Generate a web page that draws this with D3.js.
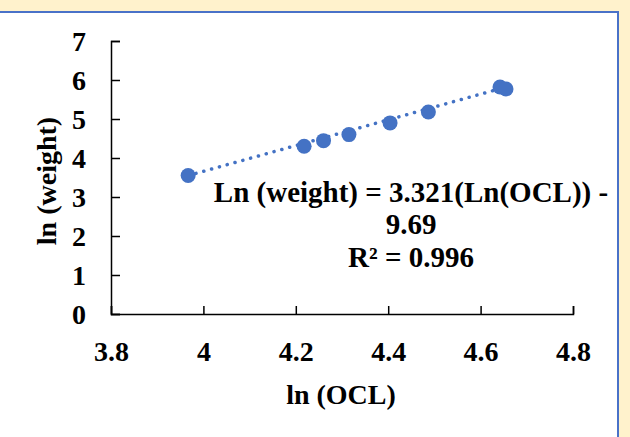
<!DOCTYPE html>
<html><head><meta charset="utf-8">
<script src="https://cdn.jsdelivr.net/npm/d3@7"></script>
<style>html,body{margin:0;padding:0;background:#FFF2CC;}svg{display:block;}</style>
</head><body>
<script>
const lnOCL = [3.967, 4.218, 4.260, 4.315, 4.404, 4.487, 4.642, 4.655];
const lnWeight = [3.55, 4.30, 4.445, 4.60, 4.90, 5.18, 5.82, 5.77];
const xTicks = [3.8, 4, 4.2, 4.4, 4.6, 4.8];
const yTicks = [0, 1, 2, 3, 4, 5, 6, 7];
const slope = 3.321, intercept = -9.69;
const eqLines = ["Ln (weight) = 3.321(Ln(OCL)) -", "9.69", "R² = 0.996"];
const xTitle = "ln (OCL)", yTitle = "ln (weight)";

const W = 630, H = 437;
const svg = d3.select("body").append("svg").attr("width", W).attr("height", H);
svg.append("rect").attr("width", W).attr("height", H).attr("fill", "#FFF2CC");
svg.append("rect").attr("x", -5).attr("y", 12).attr("width", 623).attr("height", 440)
  .attr("fill", "#fff").attr("stroke", "#4A72C8").attr("stroke-width", 2);

const font = "'Liberation Serif','Times New Roman',serif";
const x = d3.scaleLinear().domain([3.8, 4.8]).range([111, 573]);
const y = d3.scaleLinear().domain([0, 7]).range([314, 41]);

const gx = svg.append("g").attr("transform", "translate(0,314)")
  .call(d3.axisBottom(x).tickValues(xTicks).tickSizeInner(-8).tickSizeOuter(-8).tickPadding(27).tickFormat(d3.format("")));
const gy = svg.append("g").attr("transform", "translate(111,0)")
  .call(d3.axisLeft(y).tickValues(yTicks).tickSizeInner(-9).tickSizeOuter(-9).tickPadding(25).tickFormat(d3.format("d")));
[gx, gy].forEach(g => {
  g.select(".domain").attr("stroke", "#000").attr("stroke-width", 1.5);
  g.selectAll(".tick line").attr("stroke", "#000").attr("stroke-width", 1.5);
  g.selectAll("text").attr("fill", "#000").style("font-family", font).style("font-weight", "bold").style("font-size", "28px");
});
gy.selectAll("text").attr("dy", "0.35em");

svg.append("text").attr("x", 341).attr("y", 404).attr("text-anchor", "middle")
  .style("font-family", font).style("font-weight", "bold").style("font-size", "28px").text(xTitle);
svg.append("text").attr("transform", "translate(56,181) rotate(-90)").attr("text-anchor", "middle")
  .style("font-family", font).style("font-weight", "bold").style("font-size", "28px").text(yTitle);

const x0 = d3.min(lnOCL), x1 = d3.max(lnOCL);
svg.append("line").attr("x1", x(x0)).attr("y1", y(lnWeight[0]))
  .attr("x2", x(x1)).attr("y2", y(slope * x1 + intercept + 0.05))
  .attr("stroke", "#4472C4").attr("stroke-width", 3.5).attr("stroke-linecap", "round")
  .attr("stroke-dasharray", "0.1 8");

svg.selectAll("circle.pt").data(lnOCL).enter().append("circle").attr("class", "pt")
  .attr("cx", d => x(d)).attr("cy", (d, i) => y(lnWeight[i])).attr("r", 7.5).attr("fill", "#4472C4");

const eq = svg.append("text").attr("text-anchor", "middle")
  .style("font-family", font).style("font-weight", "bold").style("font-size", "29px").attr("fill", "#000");
const eqY = [202, 234, 267];
eqLines.forEach((t, i) => eq.append("tspan").attr("x", 411).attr("y", eqY[i]).text(t));
</script>
</body></html>
